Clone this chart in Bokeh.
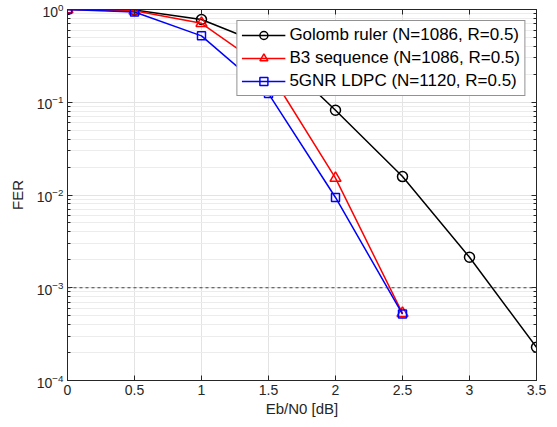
from bokeh.plotting import figure
from bokeh.models import (Range1d, FixedTicker, LinearAxis, LogAxis, Span, Legend, LegendItem,
                          CustomJSTickFormatter, LogTickFormatter)
from bokeh.embed import file_html
from bokeh.resources import INLINE

# ---- data ----
ebn0 = [0, 0.5, 1, 1.5, 2, 2.5, 3, 3.5]
golomb = [1.0, 0.99, 0.78, 0.40, 0.082, 0.0158, 0.00213, 0.000228]
ebn0_b3 = [0, 0.5, 1, 1.5, 2, 2.5]
b3 = [1.0, 0.97, 0.71, 0.22, 0.0152, 0.00053]
ebn0_5g = [0, 0.5, 1, 1.5, 2, 2.5]
nr5g = [1.0, 0.94, 0.52, 0.124, 0.0094, 0.00052]
x_ticks = [0, 0.5, 1, 1.5, 2, 2.5, 3, 3.5]
y_decades = [1e-4, 1e-3, 1e-2, 1e-1, 1e0]
target_fer = 1e-3
labels = ["Golomb ruler (N=1086, R=0.5)", "B3 sequence (N=1086, R=0.5)", "5GNR LDPC (N=1120, R=0.5)"]

FONT = "Liberation Sans"
AX = "#262626"

p = figure(width=549, height=419, output_backend="svg", toolbar_location=None,
           y_axis_type="log", x_range=Range1d(0, 3.5), y_range=Range1d(1e-4, 1),
           min_border_left=67, min_border_right=13, min_border_top=9, min_border_bottom=39)
p.background_fill_color = "white"
p.border_fill_color = "white"
p.outline_line_color = AX
p.outline_line_width = 1

y_minor = [m * d for d in y_decades[:-1] for m in range(2, 10)]
xt = FixedTicker(ticks=x_ticks)
yt = FixedTicker(ticks=y_decades, minor_ticks=y_minor)

p.xaxis.ticker = xt
p.yaxis.ticker = yt
p.yaxis.formatter = LogTickFormatter(min_exponent=0)
for ax in (p.xaxis[0], p.yaxis[0]):
    ax.axis_line_color = AX
    ax.major_tick_line_color = AX
    ax.minor_tick_line_color = AX
    ax.major_tick_in = 5
    ax.major_tick_out = 0
    ax.minor_tick_in = 3
    ax.minor_tick_out = 0
    ax.major_label_text_font = FONT
    ax.major_label_text_font_size = "14px"
    ax.major_label_text_color = AX
    ax.axis_label_text_font = FONT
    ax.axis_label_text_font_size = "15px"
    ax.axis_label_text_font_style = "normal"
    ax.axis_label_text_color = AX
p.xaxis.minor_tick_line_color = None
p.xaxis.axis_label = "Eb/N0 [dB]"
p.yaxis.axis_label = "FER"
p.xaxis.major_label_standoff = 4
p.xaxis.axis_label_standoff = 2
p.yaxis.major_label_standoff = 4
p.yaxis.axis_label_standoff = 8

empty = CustomJSTickFormatter(code="return '';")
top = LinearAxis(ticker=xt, formatter=empty, major_tick_in=5, major_tick_out=0,
                 minor_tick_line_color=None, axis_line_color=AX, major_tick_line_color=AX,
                 major_label_standoff=0)
right = LogAxis(ticker=yt, formatter=empty, major_tick_in=5, major_tick_out=0,
                minor_tick_in=3, minor_tick_out=0, axis_line_color=AX,
                major_tick_line_color=AX, minor_tick_line_color=AX, major_label_standoff=0)
p.add_layout(top, "above")
p.add_layout(right, "right")

p.xgrid.ticker = xt
p.ygrid.ticker = yt
p.xgrid.grid_line_color = "#e3e3e3"
p.ygrid.grid_line_color = "#e3e3e3"
p.ygrid.minor_grid_line_color = "#ececec"

p.add_layout(Span(location=target_fer, dimension="width", line_color="#444444",
                  line_dash="3 3", line_width=1))

items = []
series = [(ebn0, golomb, "black", "circle", 10),
          (ebn0_b3, b3, "red", "triangle", 11),
          (ebn0_5g, nr5g, "blue", "square", 8)]
for (xs, ys, col, mk, sz), lab in zip(series, labels):
    l = p.line(xs, ys, line_color=col, line_width=1.5)
    s = p.scatter(xs, ys, marker=mk, size=sz, line_color=col, fill_color=None, line_width=1.5)
    items.append(LegendItem(label=lab, renderers=[l, s]))

leg = Legend(items=items, location="top_right", margin=11,
             label_text_font=FONT, label_text_font_size="17px", label_text_color="black",
             glyph_width=44, glyph_height=20, label_height=20, spacing=3,
             padding=4, label_standoff=4,
             border_line_color=AX, border_line_width=1,
             background_fill_color="white", background_fill_alpha=1.0)
p.add_layout(leg)

open("out.html", "w").write(file_html(p, INLINE))
